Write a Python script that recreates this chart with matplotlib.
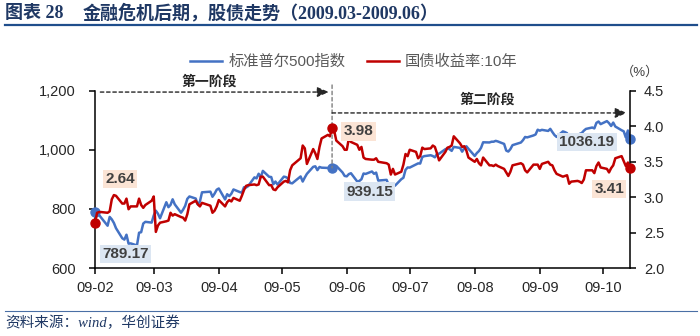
import matplotlib
matplotlib.use('Agg')
import matplotlib.pyplot as plt
import matplotlib.dates as mdates
from matplotlib.lines import Line2D
from matplotlib.ticker import FuncFormatter
import pandas as pd

plt.rcParams['font.family'] = ['Liberation Sans', 'Noto Sans CJK SC']
SERIF_CJK = ['Liberation Serif', 'Noto Sans CJK SC']

BLUE = '#4472C4'
RED = '#C00000'
NAVY = '#1F3864'

# trading days, 2009-02-17 .. 2009-10-30
holidays = ['2009-04-10', '2009-05-25', '2009-07-03', '2009-09-07']
days = pd.bdate_range('2009-02-17', '2009-10-30')
days = days[~days.isin(pd.to_datetime(holidays))]

spx = [
    # Feb
    789.17, 788.42, 778.94, 770.05, 743.33, 773.14, 764.90, 752.83, 735.09,
    # Mar
    700.82, 696.33, 712.87, 682.55, 683.38, 676.53, 719.60, 721.36, 750.74, 756.55, 753.89,
    778.12, 794.35, 784.04, 768.54, 822.92, 806.12, 813.88, 832.86, 815.94, 787.53, 797.87,
    # Apr
    811.08, 834.38, 842.50, 835.48, 815.55, 825.16, 856.56, 858.73, 841.50, 852.06, 865.30,
    869.60, 832.39, 850.08, 843.55, 851.92, 866.23, 857.51, 855.16, 873.64, 872.81,
    # May
    877.52, 907.24, 903.80, 919.53, 907.39, 929.23, 909.24, 908.35, 883.92, 893.07, 882.88,
    909.71, 908.13, 903.47, 888.33, 887.00, 910.33, 893.06, 906.83, 919.14,
    # Jun
    942.87, 944.74, 931.76, 942.46, 940.09, 939.14, 942.43, 939.15, 944.89, 946.21, 923.72,
    911.97, 910.71, 918.37, 921.23, 893.04, 895.10, 900.94, 920.26, 918.90, 927.23, 919.32,
    # Jul
    923.33, 896.42, 898.72, 881.03, 879.56, 882.68, 879.13, 901.05, 905.84, 932.68, 940.74,
    940.38, 951.13, 954.58, 954.07, 976.29, 979.26, 982.18, 979.62, 975.15, 986.75, 987.48,
    # Aug
    1002.63, 1005.65, 1002.72, 997.08, 1010.48, 1007.10, 994.35, 1005.81, 1012.73, 1004.09,
    979.73, 989.67, 996.46, 1007.37, 1026.13, 1025.57, 1028.00, 1028.12, 1030.98, 1028.93, 1020.62,
    # Sep
    998.04, 994.75, 1003.24, 1016.40, 1025.39, 1033.37, 1044.14, 1042.73, 1049.34, 1052.63,
    1068.76, 1065.49, 1068.30, 1064.66, 1071.66, 1060.87, 1050.78, 1044.38, 1062.98, 1060.61, 1057.08,
    # Oct
    1029.85, 1025.21, 1040.46, 1054.72, 1057.58, 1065.48, 1071.49, 1076.19, 1073.19, 1092.02, 1096.56,
    1087.68, 1097.91, 1091.06, 1081.40, 1092.91, 1079.60, 1066.95, 1063.41, 1042.63, 1066.11, 1036.19,
]

ust10y = [
    # Feb
    2.64, 2.78, 2.79, 2.79, 2.78, 2.80, 2.97, 3.03, 3.02,
    # Mar
    2.91, 2.91, 2.98, 2.83, 2.87, 2.87, 2.98, 2.89, 2.85, 2.89, 2.95,
    3.01, 2.51, 2.60, 2.64, 2.66, 2.67, 2.78, 2.74, 2.76, 2.72, 2.71,
    # Apr
    2.67, 2.76, 2.90, 2.95, 2.90, 2.87, 2.92, 2.88, 2.78, 2.81, 2.87,
    2.96, 2.87, 2.93, 2.96, 2.94, 2.99, 2.95, 3.02, 3.10, 3.16,
    # May
    3.17, 3.18, 3.17, 3.18, 3.29, 3.29, 3.17, 3.17, 3.11, 3.10, 3.14,
    3.22, 3.23, 3.21, 3.38, 3.45, 3.55, 3.73, 3.69, 3.47,
    # Jun
    3.68, 3.62, 3.54, 3.71, 3.83, 3.88, 3.86, 3.98, 3.94, 3.80, 3.72,
    3.67, 3.67, 3.83, 3.78, 3.74, 3.67, 3.71, 3.56, 3.54, 3.53, 3.53,
    # Jul
    3.55, 3.50, 3.48, 3.46, 3.32, 3.40, 3.32, 3.36, 3.46, 3.61, 3.58,
    3.67, 3.64, 3.55, 3.58, 3.70, 3.68, 3.69, 3.73, 3.71, 3.62, 3.52,
    # Aug
    3.64, 3.70, 3.71, 3.73, 3.86, 3.76, 3.71, 3.72, 3.66, 3.56,
    3.50, 3.54, 3.48, 3.45, 3.56, 3.45, 3.45, 3.44, 3.46, 3.44, 3.40,
    # Sep
    3.35, 3.30, 3.36, 3.45, 3.48, 3.46, 3.38, 3.35, 3.46, 3.46,
    3.46, 3.40, 3.47, 3.50, 3.46, 3.45, 3.38, 3.33, 3.29, 3.30, 3.31,
    # Oct
    3.19, 3.22, 3.23, 3.22, 3.20, 3.25, 3.38, 3.38, 3.34, 3.44, 3.49,
    3.42, 3.40, 3.35, 3.41, 3.45, 3.55, 3.58, 3.51, 3.44, 3.49, 3.41,
]
assert len(spx) == len(ust10y) == len(days)

tick_dates = pd.date_range('2009-02-17', '2009-10-17', freq=pd.DateOffset(months=1))
tick_labels = [d.strftime('%y-%m') for d in tick_dates]
split_day = pd.Timestamp('2009-06-10')

x = mdates.date2num(days.to_pydatetime())
i_split = list(days).index(split_day)
key_idx = [0, i_split, len(days) - 1]

fig = plt.figure(figsize=(7, 3.36), dpi=100)
ax = fig.add_axes([95 / 700, 68 / 336, 535 / 700, 177 / 336])
ax2 = ax.twinx()

l1, = ax.plot(x, spx, color=BLUE, lw=1.8)
l2, = ax2.plot(x, ust10y, color=RED, lw=1.8)
ax.plot(x[key_idx], [spx[i] for i in key_idx], 'o', color=BLUE, ms=6.5, clip_on=False, zorder=5)
ax2.plot(x[key_idx], [ust10y[i] for i in key_idx], 'o', color=RED, ms=6.5, clip_on=False, zorder=5)

ax.set_xlim(x[0], x[-1])
ax.set_ylim(600, 1200)
ax.set_yticks([600, 800, 1000, 1200])
ax.yaxis.set_major_formatter(FuncFormatter(lambda v, p: f'{v:,.0f}'))
ax2.set_ylim(2.0, 4.5)
ax2.set_yticks([2.0, 2.5, 3.0, 3.5, 4.0, 4.5])
ax2.yaxis.set_major_formatter(FuncFormatter(lambda v, p: f'{v:.1f}'))
ax.set_xticks(mdates.date2num(tick_dates.to_pydatetime()))
ax.set_xticklabels(tick_labels)

for a in (ax, ax2):
    a.spines['top'].set_visible(False)
    for s in a.spines.values():
        s.set_linewidth(1.1)
ax.spines['right'].set_visible(False)
ax2.spines['left'].set_visible(False)
ax2.spines['bottom'].set_visible(False)
ax.tick_params(axis='x', length=4, width=1.1, pad=5, labelsize=10.5, labelcolor='#262626')
ax.tick_params(axis='y', length=4, width=1.1, pad=10, labelsize=10.5, labelcolor='#262626')
ax2.tick_params(axis='y', length=4, width=1.1, pad=6, labelsize=10.5, labelcolor='#262626')


def tag(axis, i, series, text, offset, face):
    ax2.annotate(text, xy=(x[i], series[i]), xycoords=axis.transData,
                 xytext=offset, textcoords='offset points', ha='center', va='center',
                 fontsize=11, fontweight='bold', color='#404040', zorder=10,
                 bbox=dict(boxstyle='square,pad=0.15', fc=face, ec='none'))


LIGHT_BLUE = '#DCE6F2'
LIGHT_ORANGE = '#FBE4D5'
tag(ax, 0, spx, f'{spx[0]:.2f}', (22, -30), LIGHT_BLUE)
tag(ax2, 0, ust10y, f'{ust10y[0]:.2f}', (18, 31.5), LIGHT_ORANGE)
tag(ax, i_split, spx, f'{spx[i_split]:.2f}', (27, -17), LIGHT_BLUE)
tag(ax2, i_split, ust10y, f'{ust10y[i_split]:.2f}', (19, -2.5), LIGHT_ORANGE)
tag(ax, len(days) - 1, spx, f'{spx[-1]:.2f}', (-31, -2), LIGHT_BLUE)
tag(ax2, len(days) - 1, ust10y, f'{ust10y[-1]:.2f}', (-15, -15), LIGHT_ORANGE)

# stage divider and arrows
xs = x[i_split]
ax2.annotate('', xy=(xs, spx[i_split]), xycoords=ax.transData,
             xytext=(xs, 1.034), textcoords=('data', 'axes fraction'),
             arrowprops=dict(arrowstyle='-', color='#7F7F7F', lw=1.0,
                             linestyle=(0, (2.5, 2)), shrinkA=0, shrinkB=0))
arrow_kw = dict(arrowstyle='-|>,head_length=0.7,head_width=0.3', color='#262626', lw=1.0,
                linestyle=(0, (2.5, 2)), shrinkA=0, shrinkB=0)
ax2.annotate('', xy=(xs - 1.5, 0.994), xycoords=('data', 'axes fraction'),
             xytext=(0.01, 0.994), textcoords='axes fraction', arrowprops=arrow_kw,
             annotation_clip=False)
ax2.annotate('', xy=(0.994, 0.876), xycoords='axes fraction',
             xytext=(xs, 0.876), textcoords=('data', 'axes fraction'), arrowprops=arrow_kw,
             annotation_clip=False)
ax2.text(0.213, 1.051, '第一阶段', transform=ax2.transAxes, ha='center', va='center',
         fontsize=10, fontweight='bold', color='#262626', family='Noto Sans CJK SC')
ax2.text(0.733, 0.949, '第二阶段', transform=ax2.transAxes, ha='center', va='center',
         fontsize=10, fontweight='bold', color='#262626', family='Noto Sans CJK SC')

fig.legend([l1, l2], ['标准普尔500指数', '国债收益率:10年'], loc='center',
           bbox_to_anchor=(354 / 700, 1 - 62 / 336), ncol=2, frameon=False,
           fontsize=11, handlelength=2.1, handletextpad=0.4, columnspacing=1.4,
           labelcolor='#595959')
fig.text(640 / 700, 1 - 72 / 336, '（%）', ha='center', va='center', fontsize=9.5,
         color='#404040')

# header and footer
fig.text(5 / 700, 1 - 13 / 336, '图表 28', ha='left', va='center', fontsize=13,
         fontweight='bold', color=NAVY, family=SERIF_CJK)
fig.text(83 / 700, 1 - 13 / 336, '金融危机后期，股债走势（2009.03-2009.06）', ha='left',
         va='center', fontsize=13, fontweight='bold', color=NAVY, family=SERIF_CJK)
fig.add_artist(Line2D([5 / 700, 697 / 700], [1 - 25 / 336] * 2, lw=1.6, color='#1F4E8C'))
fig.add_artist(Line2D([5 / 700, 697 / 700], [1 - 311 / 336] * 2, lw=0.8, color='#4A6FA5'))
fig.text(5 / 700, 1 - 323 / 336, '资料来源：wind，华创证券', ha='left', va='center',
         fontsize=10.5, style='italic', color=NAVY, family=SERIF_CJK)

fig.savefig('out.png', dpi=100)
